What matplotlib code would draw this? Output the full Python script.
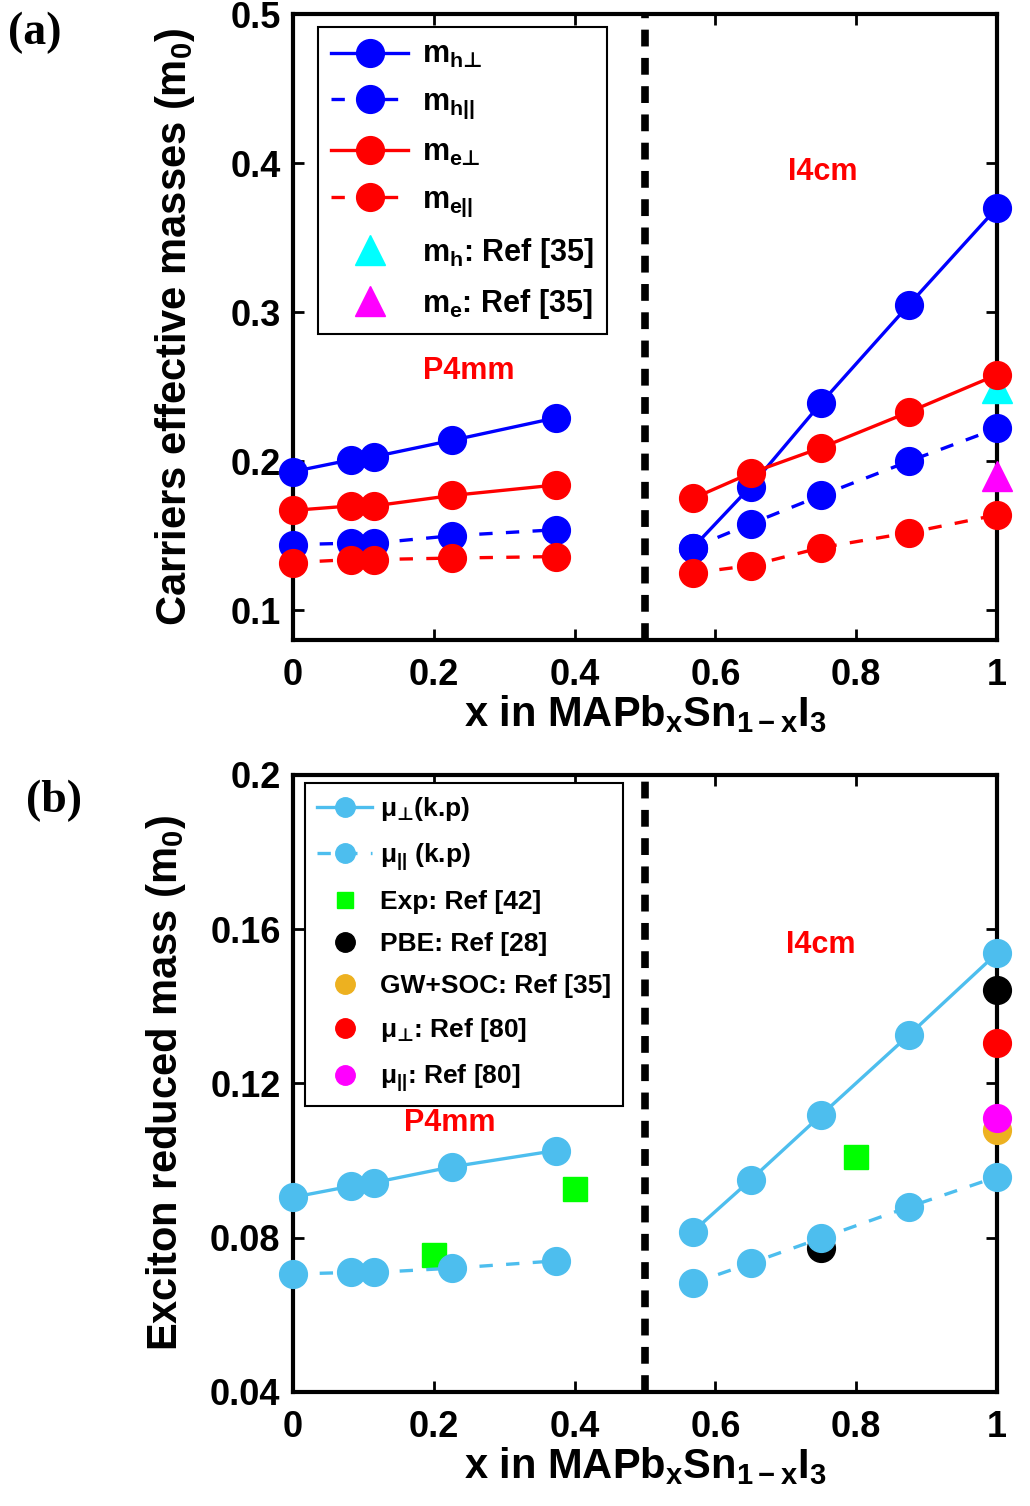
import numpy as np
import matplotlib
matplotlib.use("Agg")
import matplotlib.pyplot as plt

plt.rcParams["font.family"] = ["Liberation Sans", "DejaVu Sans"]
plt.rcParams["font.weight"] = "bold"
plt.rcParams["mathtext.fontset"] = "custom"
plt.rcParams["mathtext.rm"] = "Liberation Sans:bold"
plt.rcParams["mathtext.it"] = "Liberation Sans:bold"
plt.rcParams["mathtext.bf"] = "Liberation Sans:bold"
plt.rcParams["mathtext.sf"] = "DejaVu Sans:bold"   # for the ⊥ sign

# ---- data: composition x ----
x_p4mm = [0.0, 0.083, 0.115, 0.226, 0.373]
x_i4cm = [0.568, 0.65, 0.75, 0.875, 1.0]

# ---- panel (a): carrier effective masses ----
mh_perp_p4mm = [0.193, 0.201, 0.203, 0.214, 0.229]
mh_perp_i4cm = [0.142, 0.183, 0.239, 0.305, 0.370]
mh_par_p4mm  = [0.144, 0.145, 0.145, 0.150, 0.154]
mh_par_i4cm  = [0.142, 0.158, 0.177, 0.200, 0.222]
me_perp_p4mm = [0.167, 0.170, 0.170, 0.177, 0.184]
me_perp_i4cm = [0.175, 0.192, 0.209, 0.233, 0.258]
me_par_p4mm  = [0.132, 0.134, 0.134, 0.135, 0.136]
me_par_i4cm  = [0.125, 0.130, 0.142, 0.152, 0.164]
ref35_x  = [1.0]
ref35_mh = [0.249]
ref35_me = [0.190]

# ---- panel (b): exciton reduced mass ----
mu_perp_p4mm = [0.0905, 0.0934, 0.0943, 0.0984, 0.1026]
mu_perp_i4cm = [0.0816, 0.0950, 0.1118, 0.1326, 0.1538]
mu_par_p4mm  = [0.0706, 0.0710, 0.0710, 0.0721, 0.0740]
mu_par_i4cm  = [0.0682, 0.0734, 0.0799, 0.0880, 0.0958]
exp42_x  = [0.2, 0.4, 0.8]
exp42_mu = [0.0755, 0.0926, 0.1010]
pbe28_x  = [0.75, 1.0]
pbe28_mu = [0.0773, 0.1442]
gw35_x   = [1.0]
gw35_mu  = [0.1079]
ref80_x       = [1.0]
ref80_mu_perp = [0.1304]
ref80_mu_par  = [0.1110]

BLUE, RED = "#0000ff", "#ff0000"
LBLUE = "#4dbeee"
ORANGE = "#edb120"
MS = 20
LW = 2.4
DASH = (0, (4, 4))
PERP = "\\mathsf{\u22a5}"


def style_axes(ax, ylim, yticks, ylabels):
    ax.set_xlim(0, 1)
    ax.set_ylim(*ylim)
    ax.set_xticks([0, 0.2, 0.4, 0.6, 0.8, 1.0])
    ax.set_xticklabels(["0", "0.2", "0.4", "0.6", "0.8", "1"])
    ax.set_yticks(yticks)
    ax.set_yticklabels(ylabels)
    ax.tick_params(direction="in", length=8, width=2, labelsize=26,
                   top=True, right=True)
    ax.tick_params(axis="x", pad=13)
    ax.tick_params(axis="y", pad=9)
    for s in ax.spines.values():
        s.set_linewidth(3)
    ax.axvline(0.5, color="black", lw=5.5, ls=(0, (2.2, 1.5)), zorder=1)
    ax.set_xlabel(r"x in MAPb$_x$Sn$_{1-x}$I$_3$", fontsize=30,
                  fontweight="bold", labelpad=0)


fig = plt.figure(figsize=(10.3, 15.06), dpi=100)
ax1 = fig.add_axes([0.2845, 0.575, 0.6835, 0.4157])
ax2 = fig.add_axes([0.2845, 0.0757, 0.6835, 0.4097])

# ---- panel (a) ----
series_a = [
    (mh_perp_p4mm, mh_perp_i4cm, BLUE, "-", r"$m_{h%s}$" % PERP),
    (mh_par_p4mm,  mh_par_i4cm,  BLUE, DASH, r"$m_{h||}$"),
    (me_perp_p4mm, me_perp_i4cm, RED,  "-", r"$m_{e%s}$" % PERP),
    (me_par_p4mm,  me_par_i4cm,  RED,  DASH, r"$m_{e||}$"),
]
handles = []
for yl, yr, c, ls, lab in series_a:
    h, = ax1.plot(x_p4mm, yl, color=c, ls=ls, lw=LW, marker="o", ms=MS,
                  mec=c, mfc=c, clip_on=False, zorder=4, label=lab)
    ax1.plot(x_i4cm, yr, color=c, ls=ls, lw=LW, marker="o", ms=MS,
             mec=c, mfc=c, clip_on=False, zorder=4)
    handles.append(h)
h, = ax1.plot(ref35_x, ref35_mh, ls="none", marker="^", ms=22, color="cyan",
              clip_on=False, zorder=3, label=r"$m_h$: Ref [35]")
handles.append(h)
h, = ax1.plot(ref35_x, ref35_me, ls="none", marker="^", ms=22, color="magenta",
              clip_on=False, zorder=5, label=r"$m_e$: Ref [35]")
handles.append(h)

style_axes(ax1, (0.08, 0.5), [0.1, 0.2, 0.3, 0.4, 0.5],
           ["0.1", "0.2", "0.3", "0.4", "0.5"])
ax1.set_ylabel(r"Carriers effective masses (m$_0$)", fontsize=30,
               fontweight="bold", labelpad=24)
ax1.text(0.25, 0.2604, "P4mm", color=RED, fontsize=22, fontweight="bold",
         ha="center", va="center")
ax1.text(0.753, 0.394, "I4cm", color=RED, fontsize=22, fontweight="bold",
         ha="center", va="center")
leg = ax1.legend(handles=handles, loc="upper left", bbox_to_anchor=(0.035, 0.98),
                 borderaxespad=0, fontsize=22, handlelength=2.5,
                 fancybox=False, edgecolor="black", framealpha=1,
                 labelspacing=0.55, borderpad=0.45, handletextpad=0.45)
leg.get_frame().set_linewidth(1.5)

# ---- panel (b) ----
handles = []
h, = ax2.plot(x_p4mm, mu_perp_p4mm, color=LBLUE, lw=LW, marker="o", ms=MS,
              clip_on=False, zorder=4, label=r"$\mu_{%s}$(k.p)" % PERP)
ax2.plot(x_i4cm, mu_perp_i4cm, color=LBLUE, lw=LW, marker="o", ms=MS,
         clip_on=False, zorder=4)
handles.append(h)
h, = ax2.plot(x_p4mm, mu_par_p4mm, color=LBLUE, lw=LW, ls=DASH, marker="o",
              ms=MS, clip_on=False, zorder=4, label=r"$\mu_{||}$ (k.p)")
ax2.plot(x_i4cm, mu_par_i4cm, color=LBLUE, lw=LW, ls=DASH, marker="o", ms=MS,
         clip_on=False, zorder=4)
handles.append(h)
refs_b = [
    (exp42_x, exp42_mu, "s", "#00ff00", 17, "Exp: Ref [42]", 3),
    (pbe28_x, pbe28_mu, "o", "black", MS, "PBE: Ref [28]", 3),
    (gw35_x, gw35_mu, "o", ORANGE, MS, "GW+SOC: Ref [35]", 3),
    (ref80_x, ref80_mu_perp, "o", RED, MS, r"$\mu_{%s}$: Ref [80]" % PERP, 5),
    (ref80_x, ref80_mu_par, "o", "magenta", MS, r"$\mu_{||}$: Ref [80]", 5),
]
for xs, ys, m, c, s, lab, z in refs_b:
    h, = ax2.plot(xs, ys, ls="none", marker=m, ms=s, color=c, clip_on=False,
                  zorder=z, label=lab)
    handles.append(h)

style_axes(ax2, (0.04, 0.2), [0.04, 0.08, 0.12, 0.16, 0.2],
           ["0.04", "0.08", "0.12", "0.16", "0.2"])
ax2.set_ylabel(r"Exciton reduced mass (m$_0$)", fontsize=30,
               fontweight="bold", labelpad=16)
ax2.text(0.222, 0.1098, "P4mm", color=RED, fontsize=22, fontweight="bold",
         ha="center", va="center")
ax2.text(0.749, 0.1559, "I4cm", color=RED, fontsize=22, fontweight="bold",
         ha="center", va="center")
leg = ax2.legend(handles=handles, loc="upper left", bbox_to_anchor=(0.017, 0.987),
                 borderaxespad=0, fontsize=19, handlelength=2.1,
                 markerscale=0.7, fancybox=False, edgecolor="black",
                 framealpha=1, labelspacing=0.68, borderpad=0.45,
                 handletextpad=0.3)
leg.get_frame().set_linewidth(1.5)

fig.text(0.034, 0.978, "(a)", fontsize=33, fontweight="bold",
         family="Liberation Serif", ha="center", va="center")
fig.text(0.052, 0.468, "(b)", fontsize=33, fontweight="bold",
         family="Liberation Serif", ha="center", va="center")

fig.savefig("out.png", dpi=100)
